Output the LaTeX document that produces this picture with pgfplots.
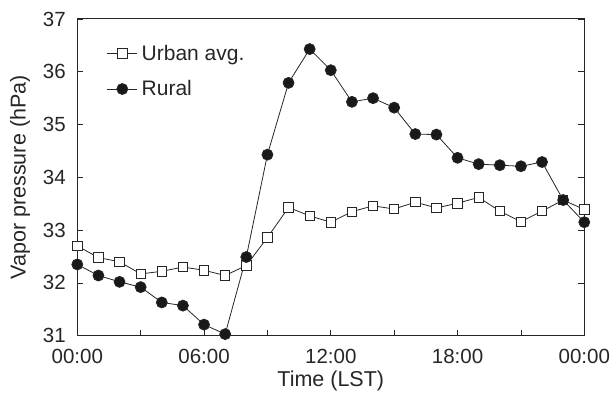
\documentclass[border=0pt]{standalone}
\usepackage{pgfplots}
\pgfplotsset{compat=1.18}
\usepackage{fontspec}
\setmainfont{Liberation Sans}
\begin{document}
\begin{tikzpicture}
\path[use as bounding box] (-77.3pt,-59.3pt) rectangle (533.7pt,335.7pt);
\begin{axis}[
  at={(0pt,0pt)}, anchor=south west,
  scale only axis,
  width=507pt, height=316.7pt,
  xmin=0, xmax=24, ymin=31, ymax=37,
  xtick={0,3,...,24},
  xticklabels={00:00,,06:00,,12:00,,18:00,,00:00},
  ytick={31,...,37},
  xtick pos=bottom,
  ytick pos=both,
  tick align=inside,
  major tick length=6pt,
  /pgf/number format/assume math mode=true,
  tick label style={font=\fontsize{20.5}{24}\selectfont, text=black!85},
  xticklabel style={anchor=base, yshift=-27.6pt},
  yticklabel style={anchor=east, inner sep=0pt, xshift=-11.3pt},
  label style={font=\fontsize{21.5}{25}\selectfont, text=black!85},
  xlabel={Time (LST)},
  ylabel={Vapor pressure (hPa)},
  xlabel style={at={(axis description cs:0.5,0)}, anchor=base, yshift=-51pt},
  ylabel style={at={(axis description cs:-0.113,0.5)}, anchor=center},
  axis line style={line width=1pt, black!85},
  tick style={line width=0.8pt, black!85},
  legend style={draw=none, fill=none, at={(axis description cs:0.058,0.925)}, anchor=north west,
    font=\fontsize{21}{24}\selectfont, row sep=15pt, inner sep=0pt,
    nodes={inner xsep=4pt, text=black!85}},
  legend cell align=left,
  legend image code/.code={
    \draw[#1] (0pt,0pt) -- (30pt,0pt);
    \draw[#1,only marks] plot coordinates {(15pt,0pt)};},
]
\addplot[black!85, line width=0.8pt, mark=square*, mark size=4.7pt, mark options={fill=white, line width=0.8pt}]
coordinates {
(0,32.70)(1,32.48)(2,32.40)(3,32.17)(4,32.22)(5,32.30)(6,32.24)(7,32.14)(8,32.33)
(9,32.86)(10,33.43)(11,33.27)(12,33.15)(13,33.35)(14,33.46)(15,33.40)(16,33.53)
(17,33.42)(18,33.51)(19,33.62)(20,33.36)(21,33.16)(22,33.36)(23,33.57)(24,33.39)
};
\addlegendentry{Urban avg.}
\addplot[black!85, line width=0.8pt, mark=*, mark size=5.5pt, mark options={fill=black!90}]
coordinates {
(0,32.35)(1,32.14)(2,32.02)(3,31.92)(4,31.63)(5,31.57)(6,31.21)(7,31.03)(8,32.49)
(9,34.43)(10,35.79)(11,36.43)(12,36.03)(13,35.43)(14,35.50)(15,35.32)(16,34.82)
(17,34.81)(18,34.37)(19,34.25)(20,34.23)(21,34.21)(22,34.29)(23,33.57)(24,33.15)
};
\addlegendentry{Rural}
\end{axis}
\end{tikzpicture}
\end{document}
